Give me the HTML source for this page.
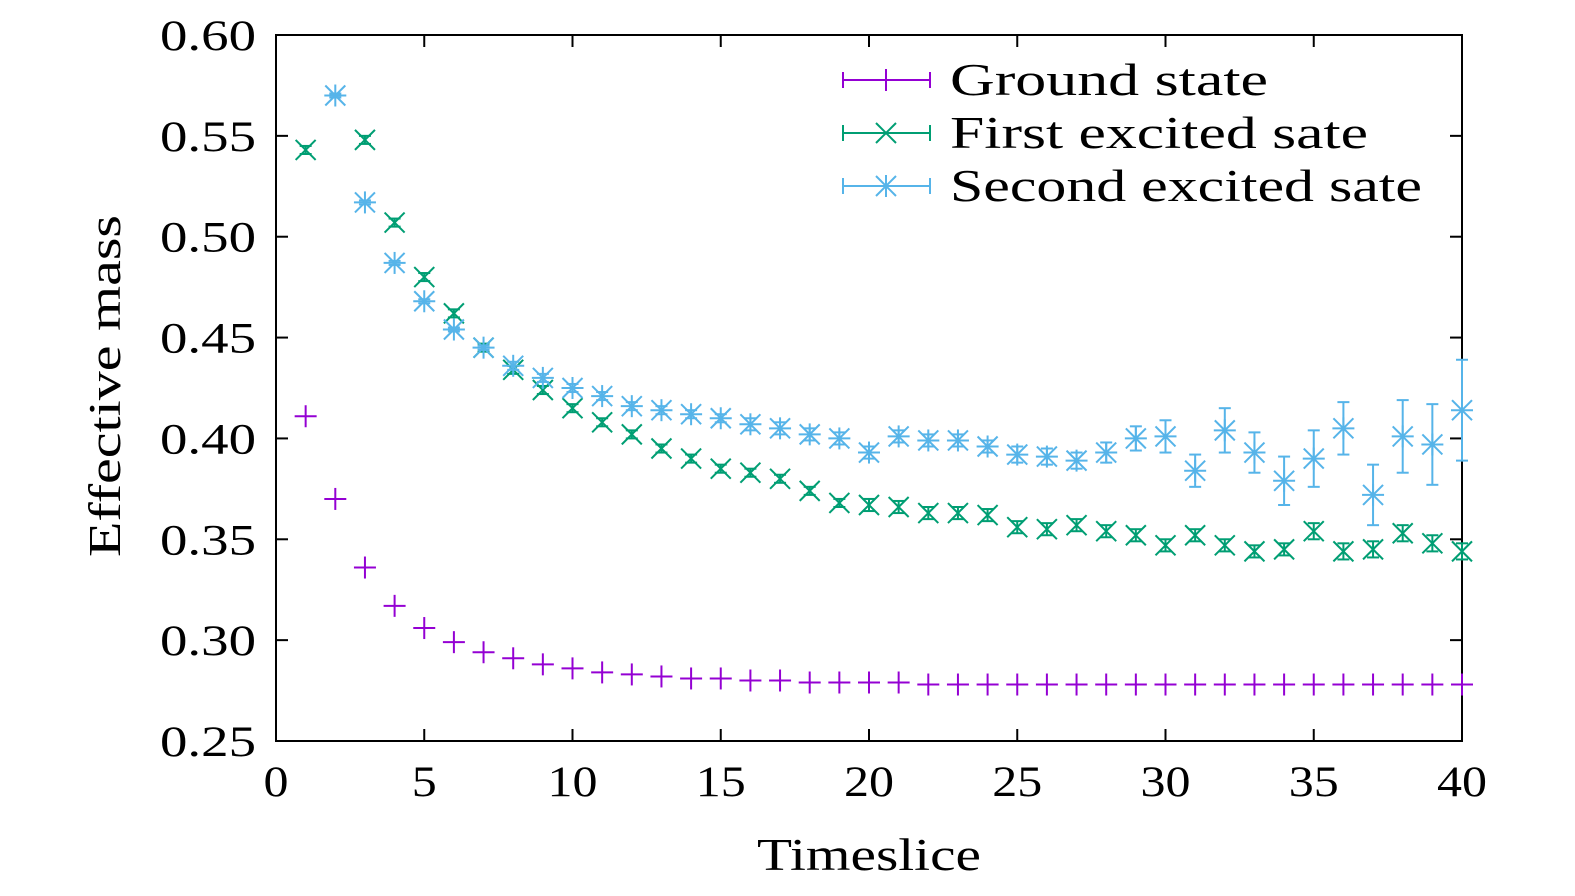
<!DOCTYPE html>
<html><head><meta charset="utf-8"><style>
html,body{margin:0;padding:0;background:#fff;overflow:hidden;}
svg{display:block;font-family:"Liberation Serif",serif;}
</style></head><body>
<svg id="chart" width="1575" height="896" viewBox="0 0 1575 896" xmlns="http://www.w3.org/2000/svg"></svg>
<script>
const xTicks=[0,5,10,15,20,25,30,35,40];
const yTicks=[0.25,0.30,0.35,0.40,0.45,0.50,0.55,0.60];
const groundT=[1,2,3,4,5,6,7,8,9,10,11,12,13,14,15,16,17,18,19,20,21,22,23,24,25,26,27,28,29,30,31,32,33,34,35,36,37,38,39,40];
const groundV=[0.411,0.370,0.336,0.317,0.306,0.299,0.294,0.291,0.288,0.286,0.284,0.283,0.282,0.281,0.281,0.280,0.280,0.279,0.279,0.279,0.279,0.278,0.278,0.278,0.278,0.278,0.278,0.278,0.278,0.278,0.278,0.278,0.278,0.278,0.278,0.278,0.278,0.278,0.278,0.278];
const firstT=[1,3,4,5,6,7,8,9,10,11,12,13,14,15,16,17,18,19,20,21,22,23,24,25,26,27,28,29,30,31,32,33,34,35,36,37,38,39,40];
const firstV=[0.543,0.548,0.507,0.480,0.462,0.445,0.434,0.424,0.415,0.408,0.402,0.395,0.390,0.385,0.383,0.380,0.374,0.368,0.367,0.366,0.363,0.363,0.362,0.356,0.355,0.357,0.354,0.352,0.347,0.352,0.347,0.344,0.345,0.354,0.344,0.345,0.353,0.348,0.344];
const firstE=[0.002,0.002,0.002,0.002,0.002,0.002,0.002,0.002,0.002,0.002,0.002,0.002,0.002,0.002,0.002,0.002,0.002,0.002,0.003,0.003,0.003,0.003,0.003,0.003,0.003,0.003,0.003,0.003,0.003,0.003,0.003,0.003,0.003,0.004,0.004,0.004,0.004,0.004,0.004];
const secondT=[2,3,4,5,6,7,8,9,10,11,12,13,14,15,16,17,18,19,20,21,22,23,24,25,26,27,28,29,30,31,32,33,34,35,36,37,38,39,40];
const secondV=[0.570,0.517,0.487,0.468,0.454,0.445,0.436,0.430,0.425,0.421,0.416,0.414,0.412,0.410,0.407,0.405,0.402,0.400,0.393,0.401,0.399,0.399,0.396,0.392,0.391,0.389,0.393,0.400,0.401,0.384,0.404,0.393,0.379,0.390,0.405,0.372,0.401,0.397,0.414];
const secondE=[0.001,0.001,0.001,0.001,0.001,0.001,0.002,0.002,0.002,0.002,0.002,0.002,0.002,0.002,0.003,0.003,0.003,0.003,0.003,0.003,0.003,0.003,0.003,0.004,0.004,0.004,0.005,0.006,0.008,0.008,0.011,0.010,0.012,0.014,0.013,0.015,0.018,0.020,0.025];

const svg=document.getElementById('chart');
const NS='http://www.w3.org/2000/svg';
const X0=276,X1=1462,Y0=741,Y1=35;
const sx=v=>X0+(v-0)/40*(X1-X0);
const sy=v=>Y0-(v-0.25)/0.35*(Y0-Y1);
function mk(tag,attrs,parent){const e=document.createElementNS(NS,tag);for(const k in attrs)e.setAttribute(k,attrs[k]);(parent||svg).appendChild(e);return e;}

const frame=mk('rect',{x:X0,y:Y1,width:X1-X0,height:Y0-Y1,fill:'none',stroke:'#000','stroke-width':2});



xTicks.forEach(t=>{
  const x=sx(t);
  mk('line',{x1:x,y1:Y0,x2:x,y2:Y0-12,stroke:'#000','stroke-width':2});
  mk('line',{x1:x,y1:Y1,x2:x,y2:Y1+12,stroke:'#000','stroke-width':2});
  const s=String(t);
  const tx=mk('text',{x:x,y:796,'font-size':43,'text-anchor':'middle',textLength:s.length*25,lengthAdjust:'spacingAndGlyphs'});
  tx.textContent=s;
  
  
});
yTicks.forEach(t=>{
  const y=sy(t);
  mk('line',{x1:X0,y1:y,x2:X0+12,y2:y,stroke:'#000','stroke-width':2});
  mk('line',{x1:X1,y1:y,x2:X1-12,y2:y,stroke:'#000','stroke-width':2});
  const tx=mk('text',{x:256,y:y+15,'font-size':43,'text-anchor':'end',textLength:96,lengthAdjust:'spacingAndGlyphs'});
  tx.textContent=t.toFixed(2);
  
  
});
const xt=mk('text',{x:869,y:870,'font-size':45,'text-anchor':'middle',textLength:224,lengthAdjust:'spacingAndGlyphs'});
xt.textContent='Timeslice';


const yt=mk('text',{x:0,y:0,'font-size':45,'text-anchor':'middle',textLength:342,lengthAdjust:'spacingAndGlyphs',transform:'translate(120,386) rotate(-90)'});
yt.textContent='Effective mass';



const C1='#9400d3',C2='#009e73',C3='#56b4e9';
function plus(g,x,y,c){mk('line',{x1:x-11,y1:y,x2:x+11,y2:y,stroke:c,'stroke-width':2},g);mk('line',{x1:x,y1:y-11,x2:x,y2:y+11,stroke:c,'stroke-width':2},g);}
function cross(g,x,y,c){mk('line',{x1:x-10,y1:y-10,x2:x+10,y2:y+10,stroke:c,'stroke-width':2},g);mk('line',{x1:x-10,y1:y+10,x2:x+10,y2:y-10,stroke:c,'stroke-width':2},g);}
function star(g,x,y,c){plus(g,x,y,c);cross(g,x,y,c);}
function errbar(g,x,y,e,c){const a=sy(0)-sy(e);mk('line',{x1:x,y1:y-a,x2:x,y2:y+a,stroke:c,'stroke-width':2},g);mk('line',{x1:x-6,y1:y-a,x2:x+6,y2:y-a,stroke:c,'stroke-width':2},g);mk('line',{x1:x-6,y1:y+a,x2:x+6,y2:y+a,stroke:c,'stroke-width':2},g);}

const g1=mk('g',{});


groundT.forEach((t,i)=>{plus(g1,sx(t),sy(groundV[i]),C1);});
const g2=mk('g',{});


firstT.forEach((t,i)=>{const x=sx(t),y=sy(firstV[i]);errbar(g2,x,y,firstE[i],C2);cross(g2,x,y,C2);});
const g3=mk('g',{});


secondT.forEach((t,i)=>{const x=sx(t),y=sy(secondV[i]);errbar(g3,x,y,secondE[i],C3);star(g3,x,y,C3);});

const legend=[['Ground state',C1,plus,318],['First excited sate',C2,cross,418],['Second excited sate',C3,star,472]];
legend.forEach((L,i)=>{
  const y=80+i*53;
  const g=mk('g',{});
  
  
  mk('line',{x1:843,y1:y,x2:930,y2:y,stroke:L[1],'stroke-width':2},g);
  mk('line',{x1:843,y1:y-8,x2:843,y2:y+8,stroke:L[1],'stroke-width':2},g);
  mk('line',{x1:930,y1:y-8,x2:930,y2:y+8,stroke:L[1],'stroke-width':2},g);
  L[2](g,886,y,L[1]);
  const t=mk('text',{x:950,y:y+15,'font-size':45,textLength:L[3],lengthAdjust:'spacingAndGlyphs'},g);
  t.textContent=L[0];
});
</script>
</body></html>
